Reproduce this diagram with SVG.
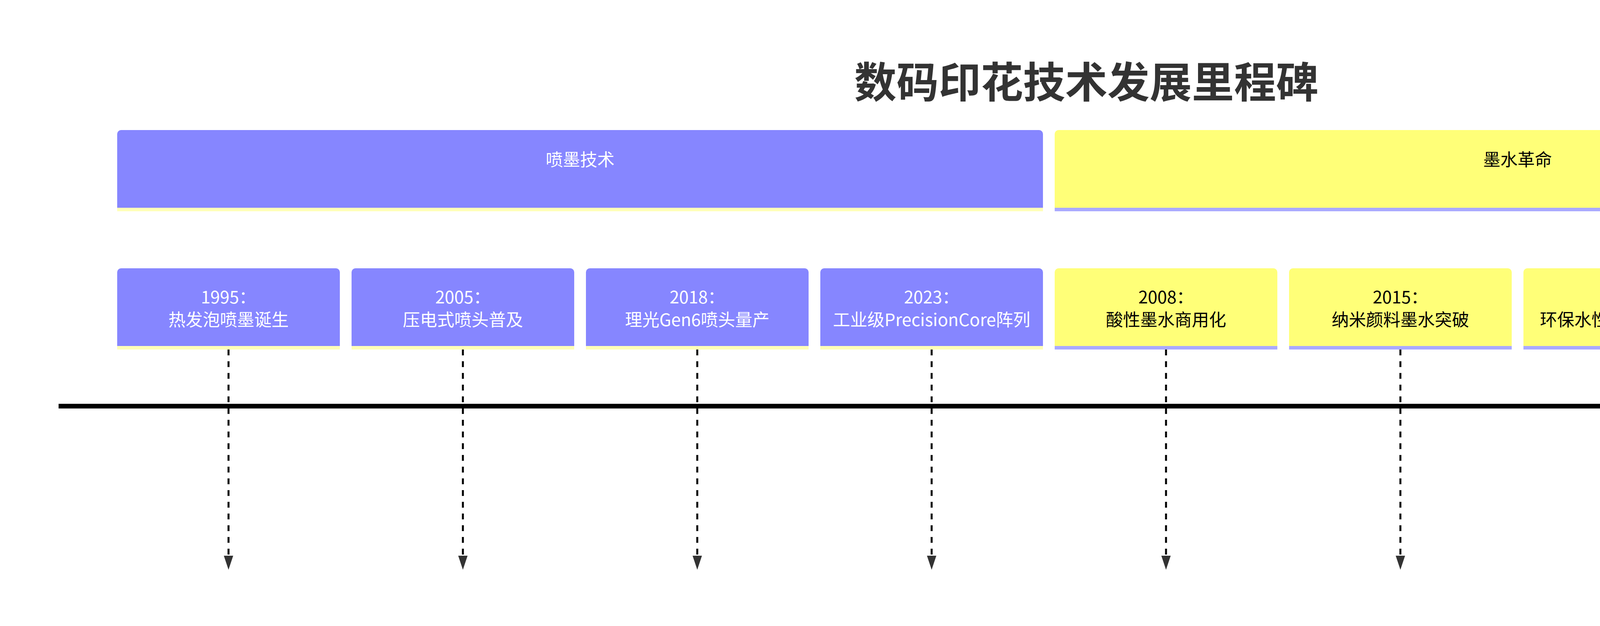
<svg xmlns="http://www.w3.org/2000/svg" width="5370" height="1603" viewBox="0 0 5370 1603">
<style>
text{font-family:"Noto Sans CJK SC","Noto Sans",sans-serif;text-anchor:middle;dominant-baseline:central}
.title{font-size:108px;font-weight:bold;fill:#333}
.t{font-size:44px}
.s0 .box{fill:#8686ff}.s0 .bar{fill:#ffffb8}.s0 text{fill:#fff}
.s1 .box{fill:#ffff78}.s1 .bar{fill:#aaaaff}.s1 text{fill:#000}
.dash{stroke:#000;stroke-width:5;stroke-dasharray:15 15;fill:none}
.axis{stroke:#000;stroke-width:12;fill:none}
</style>
<defs>
<marker id="ax" markerUnits="userSpaceOnUse" viewBox="0 0 72 48" refX="60" refY="24" markerWidth="72" markerHeight="48" orient="auto"><path d="M0,0 L72,24 L0,48 Z" fill="#333"/></marker>
</defs>
<text class="title" x="2781" y="203">数码印花技术发展里程碑</text>
<g id="connectors">
<line class="axis" x1="150" y1="1040" x2="5170" y2="1040" marker-end="url(#ax)"/>
<path class="dash" d="M585,895 V1425"/>
<path class="dash" d="M1185,895 V1425"/>
<path class="dash" d="M1785,895 V1425"/>
<path class="dash" d="M2385,895 V1425"/>
<path class="dash" d="M2985,895 V1425"/>
<path class="dash" d="M3585,895 V1425"/>
<path class="dash" d="M4185,895 V1425"/>
<path class="dash" d="M4785,895 V1425"/>
<g fill="#333">
<path d="M573,1423 h24 l-12,36 z"/><path d="M1173,1423 h24 l-12,36 z"/><path d="M1773,1423 h24 l-12,36 z"/><path d="M2373,1423 h24 l-12,36 z"/><path d="M2973,1423 h24 l-12,36 z"/><path d="M3573,1423 h24 l-12,36 z"/><path d="M4173,1423 h24 l-12,36 z"/><path d="M4773,1423 h24 l-12,36 z"/>
</g>
</g>
<g id="sec0" class="s0"><rect class="bar" x="300" y="520" width="2370" height="21"/><path class="box" d="M300,532 V343 a10,10 0 0 1 10,-10 H2660 a10,10 0 0 1 10,10 V532 Z"/><text class="t" x="1485" y="406">喷墨技术</text></g>
<g id="sec1" class="s1"><rect class="bar" x="2700" y="520" width="2370" height="21"/><path class="box" d="M2700,532 V343 a10,10 0 0 1 10,-10 H5060 a10,10 0 0 1 10,10 V532 Z"/><text class="t" x="3885" y="406">墨水革命</text></g>
<g id="e1995" class="s0"><rect class="bar" x="300" y="880" width="570" height="15"/><path class="box" d="M300,886 V697 a10,10 0 0 1 10,-10 H860 a10,10 0 0 1 10,10 V886 Z"/><text class="t" x="585" y="758">1995：</text><text class="t" x="585" y="816">热发泡喷墨诞生</text></g>
<g id="e2005" class="s0"><rect class="bar" x="900" y="880" width="570" height="15"/><path class="box" d="M900,886 V697 a10,10 0 0 1 10,-10 H1460 a10,10 0 0 1 10,10 V886 Z"/><text class="t" x="1185" y="758">2005：</text><text class="t" x="1185" y="816">压电式喷头普及</text></g>
<g id="e2018" class="s0"><rect class="bar" x="1500" y="880" width="570" height="15"/><path class="box" d="M1500,886 V697 a10,10 0 0 1 10,-10 H2060 a10,10 0 0 1 10,10 V886 Z"/><text class="t" x="1785" y="758">2018：</text><text class="t" x="1785" y="816">理光Gen6喷头量产</text></g>
<g id="e2023" class="s0"><rect class="bar" x="2100" y="880" width="570" height="15"/><path class="box" d="M2100,886 V697 a10,10 0 0 1 10,-10 H2660 a10,10 0 0 1 10,10 V886 Z"/><text class="t" x="2385" y="758">2023：</text><text class="t" x="2385" y="816">工业级PrecisionCore阵列</text></g>
<g id="e2008" class="s1"><rect class="bar" x="2700" y="880" width="570" height="15"/><path class="box" d="M2700,886 V697 a10,10 0 0 1 10,-10 H3260 a10,10 0 0 1 10,10 V886 Z"/><text class="t" x="2985" y="758">2008：</text><text class="t" x="2985" y="816">酸性墨水商用化</text></g>
<g id="e2015" class="s1"><rect class="bar" x="3300" y="880" width="570" height="15"/><path class="box" d="M3300,886 V697 a10,10 0 0 1 10,-10 H3860 a10,10 0 0 1 10,10 V886 Z"/><text class="t" x="3585" y="758">2015：</text><text class="t" x="3585" y="816">纳米颜料墨水突破</text></g>
<g id="e2021" class="s1"><rect class="bar" x="3900" y="880" width="570" height="15"/><path class="box" d="M3900,886 V697 a10,10 0 0 1 10,-10 H4460 a10,10 0 0 1 10,10 V886 Z"/><text class="t" x="4185" y="758">2021：</text><text class="t" x="4185" y="816">环保水性墨水占比超50%</text></g>
<g id="e2025" class="s1"><rect class="bar" x="4500" y="880" width="570" height="15"/><path class="box" d="M4500,886 V697 a10,10 0 0 1 10,-10 H5060 a10,10 0 0 1 10,10 V886 Z"/><text class="t" x="4785" y="758">2025：</text><text class="t" x="4785" y="816">生物基墨水实验室阶段</text></g>
</svg>
